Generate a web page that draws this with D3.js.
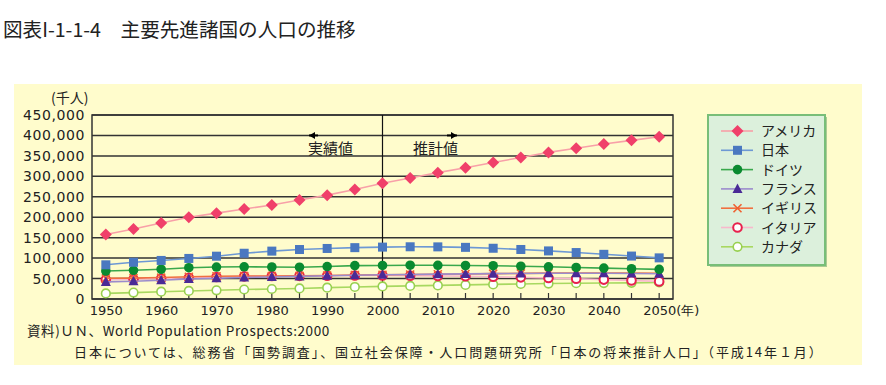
<!DOCTYPE html>
<html><head><meta charset="utf-8">
<script src="https://cdn.jsdelivr.net/npm/d3@7"></script>
<style>
body{margin:0;background:#fff;}
svg{display:block;}
</style></head>
<body><svg id="c" width="886" height="385"></svg>
<script>
const years = [1950,1955,1960,1965,1970,1975,1980,1985,1990,1995,2000,2005,2010,2015,2020,2025,2030,2035,2040,2045,2050];
const xTickLabels = ["1950","1960","1970","1980","1990","2000","2010","2020","2030","2040","2050(年)"];
const yTicks = [0,50000,100000,150000,200000,250000,300000,350000,400000,450000];
const seriesNames = ["アメリカ","日本","ドイツ","フランス","イギリス","イタリア","カナダ"];
const usa = [157800,171000,186000,200000,210000,220000,230000,242000,254000,268000,283000,296000,309000,321000,334000,346000,358500,368500,379000,388000,397000];
const japan = [83600,89800,94300,99200,104700,111900,117100,121000,123600,125600,126900,127700,127500,126300,124100,121100,117600,113600,109300,105000,100600];
const germany = [68400,70200,72800,76600,78200,78700,78300,77700,79400,81700,82000,82700,82400,81900,81400,80200,78800,77200,75600,74000,72400];
const france = [41800,43400,45700,48800,50800,52700,53900,55300,56700,58000,59200,60000,60800,61400,62000,62400,62800,63000,62900,62400,61800];
const uk = [50600,51000,52400,54400,55600,56200,56300,56600,57600,58600,59400,60000,60600,61200,62000,62700,63300,63600,63600,63400,62900];
const italy = [47100,48600,50200,52100,53800,55400,56400,56600,56700,57300,57500,57100,56500,55600,54500,53000,51300,49500,47500,45200,43000];
const canada = [13700,15700,17900,19700,21300,23200,24500,25800,27700,29400,30800,32000,33300,34500,35700,36800,37800,38500,39000,39500,40400];

const seriesData = [usa,japan,germany,france,uk,italy,canada];
const lineColors = ["#f8a0a8","#6d98d4","#3aa84c","#9b8ccc","#f07040","#f8b8cc","#a8d860"];
const markColors = ["#f0406a","#4a78c0","#0a8a30","#4a2a96","#f06030","#e8204c","#98d050"];
const markTypes = ["diamond","square","circle","triangle","x","ocircle","ocircle2"];

const CJK = '"Noto Sans CJK JP", sans-serif';
const LAT = '"DejaVu Sans", sans-serif';

const svg = d3.select("#c");
svg.append("rect").attr("x",14).attr("y",84).attr("width",848).attr("height",281).attr("fill","#fffccc");

svg.append("text").attr("x",3).attr("y",37).style("font-family",CJK).style("font-size","19.6px").attr("fill","#222")
  .text("図表I-1-1-4　主要先進諸国の人口の推移");

const L=92,R=673,T=115,B=299;
const x = d3.scalePoint().domain(years).range([L,R]).padding(0.5);
const y = d3.scaleLinear().domain([0,450000]).range([B,T]);

const g = svg.append("g");
g.selectAll("line.grid").data(yTicks).enter().append("line")
  .attr("x1",L).attr("x2",R).attr("y1",d=>y(d)).attr("y2",d=>y(d))
  .attr("stroke","#333").attr("stroke-width",1.5);
g.append("rect").attr("x",L).attr("y",T).attr("width",R-L).attr("height",B-T)
  .attr("fill","none").attr("stroke","#333").attr("stroke-width",1.5);
g.append("line").attr("x1",x(2000)).attr("x2",x(2000)).attr("y1",T).attr("y2",B)
  .attr("stroke","#111").attr("stroke-width",1.2);

const yAxis = d3.axisLeft(y).tickValues(yTicks).tickSize(0).tickPadding(7)
  .tickFormat(d=>d3.format(",")(d));
const ya = svg.append("g").attr("transform",`translate(${L},0)`).call(yAxis);
ya.select(".domain").remove();
ya.selectAll("text").style("font-family",LAT).style("font-size","14px").style("letter-spacing","0.6px").attr("fill","#222");

const xTickYears = years.filter(v=>v%10===0);
const xAxis = d3.axisBottom(x).tickSize(0).tickPadding(7)
  .tickValues(xTickYears)
  .tickFormat((d,i)=>xTickLabels[i]);
const xa = svg.append("g").attr("transform",`translate(0,${B})`).call(xAxis);
xa.select(".domain").remove();
xa.selectAll("text").style("font-family",LAT).style("font-size","13px").attr("fill","#222");
xa.selectAll(".tick").filter(d=>d===2050).select("text").attr("text-anchor","start").attr("dx",-16.5);
g.selectAll("line.xt").data(years).enter().append("line")
  .attr("x1",d=>x(d)).attr("x2",d=>x(d)).attr("y1",B).attr("y2",B-6)
  .attr("stroke","#333").attr("stroke-width",1.2);

svg.append("text").attr("x",51).attr("y",103).style("font-family",CJK).style("font-size","14px").attr("fill","#222").text("(千人)");

function arrow(x0,x1,yy){
  svg.append("line").attr("x1",x0).attr("x2",x1).attr("y1",yy).attr("y2",yy).attr("stroke","#000").attr("stroke-width",2);
  const dir = x1>x0?1:-1;
  svg.append("path").attr("d",`M${x1},${yy} L${x1-dir*6},${yy-3.5} L${x1-dir*6},${yy+3.5}Z`).attr("fill","#000");
}
arrow(318,309,y(400000));
arrow(447,457,y(400000));
svg.append("text").attr("x",308).attr("y",154).style("font-family",CJK).style("font-size","15px").attr("fill","#222").text("実績値");
svg.append("text").attr("x",413).attr("y",154).style("font-family",CJK).style("font-size","15px").attr("fill","#222").text("推計値");

function drawMarker(sel,type,cx,cy,col){
  if(type==="diamond") sel.append("path").attr("d",`M${cx},${cy-6}L${cx+6},${cy}L${cx},${cy+6}L${cx-6},${cy}Z`).attr("fill",col);
  else if(type==="square") sel.append("rect").attr("x",cx-4.5).attr("y",cy-4.5).attr("width",9).attr("height",9).attr("fill",col);
  else if(type==="circle") sel.append("circle").attr("cx",cx).attr("cy",cy).attr("r",4.8).attr("fill",col);
  else if(type==="triangle") sel.append("path").attr("d",`M${cx},${cy-5.5}L${cx+5},${cy+4}L${cx-5},${cy+4}Z`).attr("fill",col);
  else if(type==="x") sel.append("path").attr("d",`M${cx-4},${cy-4}L${cx+4},${cy+4}M${cx+4},${cy-4}L${cx-4},${cy+4}`).attr("stroke",col).attr("stroke-width",1.6);
  else if(type==="ocircle") sel.append("circle").attr("cx",cx).attr("cy",cy).attr("r",4.3).attr("fill","#fff").attr("stroke",col).attr("stroke-width",2);
  else if(type==="ocircle2") sel.append("circle").attr("cx",cx).attr("cy",cy).attr("r",4.3).attr("fill","#fff").attr("stroke",col).attr("stroke-width",1.6);
}

const line = d3.line().x((d,i)=>x(years[i])).y(d=>y(d));
const order = [6,5,4,3,2,1,0];
order.forEach(si=>{
  const sg = svg.append("g");
  sg.append("path").attr("d",line(seriesData[si])).attr("fill","none").attr("stroke",lineColors[si]).attr("stroke-width",1.6);
  seriesData[si].forEach((v,i)=>drawMarker(sg,markTypes[si],x(years[i]),y(v),markColors[si]));
});

const lg = svg.append("g");
lg.append("rect").attr("x",710).attr("y",117).attr("width",117).attr("height",150).attr("fill","#5a9a5a").attr("opacity",0.5);
lg.append("rect").attr("x",708).attr("y",115).attr("width",117).attr("height",150).attr("fill","#dcf0dc").attr("stroke","#78be78").attr("stroke-width",2);
seriesNames.forEach((n,i)=>{
  const yy = 131 + i*19.3;
  lg.append("line").attr("x1",721).attr("x2",753).attr("y1",yy).attr("y2",yy).attr("stroke",lineColors[i]).attr("stroke-width",1.6);
  drawMarker(lg,markTypes[i],737.5,yy,markColors[i]);
  lg.append("text").attr("x",761).attr("y",yy+5).style("font-family",CJK).style("font-size","14px").attr("fill","#222").text(n);
});

svg.append("text").attr("x",27).attr("y",336).style("font-family",CJK).style("font-size","13.5px").attr("fill","#222").style("letter-spacing","0.6px")
  .text("資料)ＵＮ、World Population Prospects:2000");
svg.append("text").attr("x",74).attr("y",357).style("font-family",CJK).style("font-size","13px").style("letter-spacing","1.9px").attr("fill","#222")
  .text("日本については、総務省「国勢調査」、国立社会保障・人口問題研究所「日本の将来推計人口」（平成14年１月）");
</script></body></html>
